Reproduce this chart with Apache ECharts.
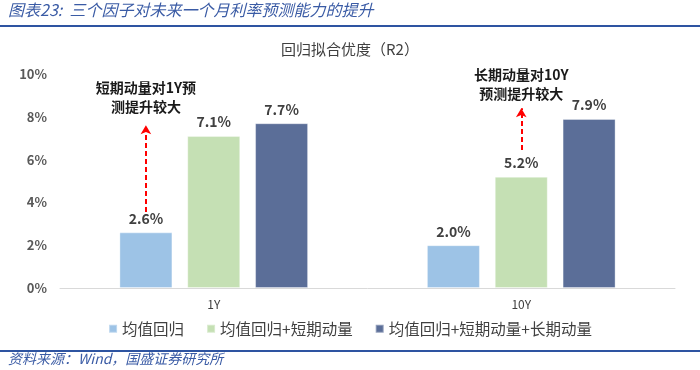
<!DOCTYPE html>
<html>
<head>
<meta charset="utf-8">
<script src="https://cdn.jsdelivr.net/npm/echarts@6/dist/echarts.min.js"></script>
<style>html,body{margin:0;padding:0;background:#fff}#c{width:700px;height:370px}</style>
</head>
<body>
<div id="c"></div>
<script>
var categories = ['1Y', '10Y'];
var seriesNames = ['均值回归', '均值回归+短期动量', '均值回归+短期动量+长期动量'];
var meanRev = [2.6, 2.0];
var meanRevShort = [7.1, 5.2];
var meanRevShortLong = [7.7, 7.9];
var yTicks = [0, 2, 4, 6, 8, 10];
var note1Y = '短期动量对1Y预\n测提升较大';
var note10Y = '长期动量对10Y\n预测提升较大';
var arrow1Y = [3.55, 7.6];
var arrow10Y = [6.45, 8.4];
var note1YPos = 8.9;
var note10YPos = 9.53;

var FONT = '"Noto Sans CJK SC", "Noto Sans", sans-serif';
var chart = echarts.init(document.getElementById('c'));

function noteMark(cat, y, text) {
  return {
    symbol: 'circle', symbolSize: 1, silent: true,
    itemStyle: { color: 'rgba(0,0,0,0)' },
    label: { show: true, position: 'inside', formatter: text, fontFamily: FONT, fontSize: 14, fontWeight: 'bold', color: '#1a1a1a', lineHeight: 19, align: 'center' },
    data: [{ coord: [cat, y] }]
  };
}
function arrowMark(cat, range) {
  return {
    silent: true, symbol: ['none', 'arrow'], symbolSize: [8, 9],
    label: { show: false },
    lineStyle: { color: '#FF0000', type: [5, 3], width: 2 },
    data: [[{ coord: [cat, range[0]] }, { coord: [cat, range[1]] }]]
  };
}

var colors = ['#9DC3E6', '#C5E0B4', '#5B6E98'];
var dataSets = [meanRev, meanRevShort, meanRevShortLong];
var series = dataSets.map(function (d, i) {
  return {
    name: seriesNames[i], type: 'bar', data: d, barWidth: 53, barGap: '28%',
    itemStyle: { color: colors[i], borderColor: 'rgba(255,255,255,0.35)', borderWidth: 1 },
    label: { show: true, position: 'top', distance: 7, formatter: function (p) { return p.value.toFixed(1) + '%'; }, fontFamily: FONT, fontSize: 14, fontWeight: 'bold', color: '#404040' }
  };
});
series[0].markLine = arrowMark('1Y', arrow1Y);
series[0].markPoint = noteMark('1Y', note1YPos, note1Y);
series[1].markLine = arrowMark('10Y', arrow10Y);
series[1].markPoint = noteMark('10Y', note10YPos, note10Y);

chart.setOption({
  animation: false,
  title: { text: '回归拟合优度（R2）', left: 'center', top: 37, textStyle: { fontFamily: FONT, fontSize: 15, fontWeight: 'normal', color: '#404040' } },
  graphic: [
    { type: 'text', left: 8, top: 2, style: { text: '图表23:  三个因子对未来一个月利率预测能力的提升', font: 'italic 16px "Noto Sans CJK SC", sans-serif', fill: '#3A5BA5' } },
    { type: 'rect', left: 0, top: 25, shape: { width: 700, height: 2 }, style: { fill: '#2E54A1' } },
    { type: 'rect', left: 0, top: 350, shape: { width: 700, height: 2 }, style: { fill: '#2E54A1' } },
    { type: 'text', left: 8, top: 352, style: { text: '资料来源：Wind，国盛证券研究所', font: 'italic 14px "Noto Sans CJK SC", sans-serif', fill: '#3A5BA5' } }
  ],
  legend: {
    data: seriesNames, left: 'center', top: 316, icon: 'rect', itemWidth: 8, itemHeight: 8, itemGap: 22,
    textStyle: { fontFamily: FONT, fontSize: 15.5, color: '#404040' }
  },
  grid: { left: 60, right: 25, top: 74, bottom: 82 },
  xAxis: {
    type: 'category', data: categories,
    axisLine: { lineStyle: { color: '#D9D9D9' } }, axisTick: { show: false },
    axisLabel: { fontFamily: FONT, fontSize: 12, color: '#404040', margin: 10 }
  },
  yAxis: {
    type: 'value', min: yTicks[0], max: yTicks[yTicks.length - 1], interval: yTicks[1] - yTicks[0],
    splitLine: { show: false }, axisLine: { show: false }, axisTick: { show: false },
    axisLabel: { formatter: '{value}%', fontFamily: FONT, fontSize: 13, fontWeight: 'bold', color: '#595959', margin: 13 }
  },
  series: series
});
</script>
</body>
</html>
